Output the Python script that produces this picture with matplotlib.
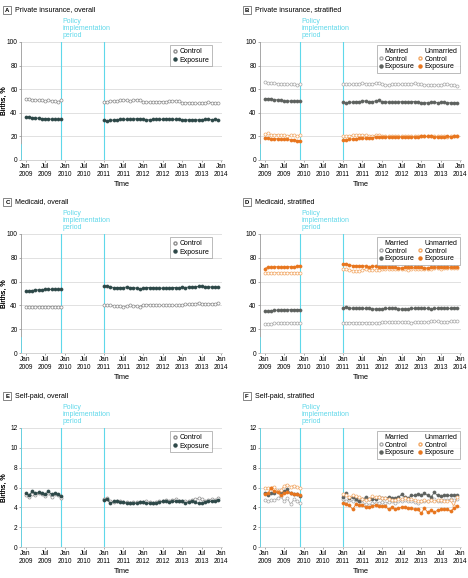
import numpy as np
import matplotlib
matplotlib.use("Agg")
import matplotlib.pyplot as plt
from matplotlib.lines import Line2D
from matplotlib.patches import Rectangle

plt.rcParams['font.family'] = ['Liberation Sans Narrow', 'Liberation Sans', 'DejaVu Sans']

# months since Jan 2009
months_pre = list(range(0, 12))
months_post = list(range(24, 60))
tick_pos = list(range(0, 61, 6))
tick_labels = ["Jan\n2009", "Jul\n2009", "Jan\n2010", "Jul\n2010", "Jan\n2011", "Jul\n2011",
               "Jan\n2012", "Jul\n2012", "Jan\n2013", "Jul\n2013", "Jan\n2014"]

# A: private insurance, overall
a_ctrl_pre = [52, 51.5, 51, 51, 50.5, 50.5, 50, 50.5, 50, 50, 49.5, 50.5]
a_ctrl_post = [49.5, 49.5, 50, 50, 50, 50.5, 51, 50.5, 50, 50.5, 51, 51,
               49.5, 49, 49, 49.5, 49.5, 49.5, 49.5, 49.5, 50, 50, 50, 50,
               48.5, 48.5, 48.5, 48.5, 48, 48, 48.5, 48.5, 49, 48.5, 48.5, 48]
a_exp_pre = [36.5, 36.5, 36, 35.5, 35.5, 35, 35, 35, 34.5, 34.5, 34.5, 34.5]
a_exp_post = [33.5, 33, 33.5, 34, 34, 34.5, 34.5, 34.5, 34.5, 34.5, 35, 35,
              34.5, 34, 34, 34.5, 34.5, 34.5, 34.5, 35, 34.5, 34.5, 34.5, 34.5,
              34, 34, 34, 34, 34, 34, 34, 34.5, 34.5, 34, 34.5, 34]

# B: private insurance, stratified
b_mc_pre = [66, 65.5, 65, 65, 64.5, 64.5, 64, 64, 64, 64, 63.5, 64]
b_mc_post = [64, 64, 64, 64, 64.5, 64.5, 65, 64.5, 64, 64.5, 65, 65.5,
             64, 63.5, 63.5, 64, 64, 64, 64, 64, 64.5, 64, 65, 64.5,
             64, 63.5, 63.5, 63.5, 63.5, 63.5, 63.5, 64, 64, 63.5, 63.5, 63]
b_me_pre = [52, 52, 52, 51, 51, 50.5, 50, 50, 50, 50, 50, 50]
b_me_post = [49, 48.5, 49, 49, 49.5, 49.5, 50, 50, 49.5, 49.5, 50, 50.5,
             49.5, 49.5, 49, 49, 49, 49, 49.5, 49.5, 49, 49.5, 49.5, 49.5,
             48.5, 48.5, 48.5, 49, 49, 48.5, 49, 49, 48.5, 48.5, 48.5, 48.5]
b_uc_pre = [22, 22.5, 21.5, 21.5, 21.5, 21, 21.5, 20.5, 21, 21, 20.5, 21]
b_uc_post = [20, 20, 20.5, 21, 21, 21.5, 21.5, 21, 20.5, 20.5, 21, 21,
             20.5, 20, 20, 20, 20, 20, 20, 20, 20, 20, 20, 20,
             20, 20, 20, 20, 20, 20, 20, 20, 19.5, 20, 20, 20]
b_ue_pre = [19, 18.5, 18, 18, 18, 17.5, 17.5, 17.5, 17, 17, 16.5, 16.5]
b_ue_post = [17, 17, 17.5, 18, 18, 18.5, 18.5, 18.5, 19, 19, 19.5, 19.5,
             19.5, 19.5, 19.5, 19.5, 19.5, 19.5, 19.5, 19.5, 19.5, 19.5, 19.5, 19.5,
             20, 20, 20, 20, 19.5, 19.5, 19.5, 19.5, 20.5, 19.5, 20, 20]

# C: medicaid, overall
c_ctrl_pre = [38.5, 38.5, 38.5, 38.5, 39, 39, 39, 39, 39, 39, 39, 38.5]
c_ctrl_post = [40, 40, 40, 39.5, 39.5, 39.5, 39, 39.5, 40, 39.5, 39.5, 39,
               40.5, 40.5, 40.5, 40.5, 40, 40, 40, 40, 40, 40, 40, 40,
               40.5, 41, 41, 41, 41.5, 42, 41.5, 41.5, 41, 41.5, 41.5, 42]
c_exp_pre = [52, 52, 52.5, 53, 53, 53, 53.5, 53.5, 53.5, 53.5, 53.5, 53.5]
c_exp_post = [56, 56.5, 55.5, 55, 55, 55, 55, 55.5, 55, 55, 54.5, 54,
              54.5, 55, 55, 55, 54.5, 54.5, 54.5, 54.5, 54.5, 55, 55, 54.5,
              55.5, 55, 55.5, 55.5, 55.5, 56, 56, 55.5, 55.5, 55.5, 55.5, 55.5]

# D: medicaid, stratified
d_mc_pre = [24.5, 24.5, 24.5, 25, 25, 25.5, 25.5, 25, 25.5, 25, 25.5, 25]
d_mc_post = [25.5, 25.5, 25.5, 25.5, 25.5, 25.5, 25.5, 25.5, 25.5, 25.5, 25, 25,
             26, 26, 26, 26, 26, 26, 26, 26, 26, 25.5, 26, 26,
             26, 26, 26, 26.5, 26.5, 26.5, 26, 26, 26, 26.5, 26.5, 26.5]
d_me_pre = [35.5, 35, 35.5, 36, 36, 36, 36.5, 36, 36.5, 36.5, 36.5, 36.5]
d_me_post = [38, 38.5, 38, 37.5, 37.5, 37.5, 37.5, 37.5, 37.5, 37, 37, 37,
             37, 37.5, 37.5, 37.5, 37.5, 37, 37, 37, 37, 37.5, 37.5, 37.5,
             37.5, 37.5, 37.5, 37, 37.5, 37.5, 38, 37.5, 37.5, 37.5, 38, 38]
d_uc_pre = [67.5, 67, 67.5, 67.5, 67.5, 67, 67.5, 67.5, 67.5, 67.5, 67.5, 67.5]
d_uc_post = [70.5, 70.5, 70, 69, 69, 69, 69.5, 70.5, 70, 70, 69.5, 70,
             70.5, 70.5, 71, 71, 70.5, 71, 71, 70.5, 70, 71, 71, 70.5,
             71, 71, 71, 71, 71.5, 71.5, 71, 71.5, 71.5, 71.5, 71.5, 71.5]
d_ue_pre = [71, 72, 72, 72.5, 72.5, 72, 72.5, 72.5, 72.5, 72.5, 73, 73.5]
d_ue_post = [75, 75, 74, 73.5, 73.5, 73, 73.5, 73, 72.5, 73, 73, 72.5,
             72, 72.5, 72.5, 72, 72, 71.5, 71.5, 72, 72, 72, 72, 72,
             72, 71.5, 71.5, 72, 72, 72.5, 72.5, 72, 72.5, 72, 72, 72.5]

# E: self-paid, overall
e_ctrl_pre = [5.2, 5.0, 5.3, 5.2, 5.4, 5.3, 5.1, 5.4, 5.0, 5.3, 5.2, 4.9]
e_ctrl_post = [4.8, 4.9, 4.6, 4.5, 4.6, 4.6, 4.5, 4.5, 4.4, 4.5, 4.5, 4.5,
               4.5, 4.6, 4.5, 4.4, 4.5, 4.6, 4.6, 4.7, 4.6, 4.7, 4.8, 4.6,
               4.6, 4.6, 4.6, 4.7, 4.8, 4.9, 4.8, 4.6, 4.7, 4.8, 4.7, 4.9]
e_exp_pre = [5.4, 5.2, 5.6, 5.4, 5.5, 5.4, 5.3, 5.6, 5.3, 5.4, 5.3, 5.1]
e_exp_post = [4.7, 4.8, 4.4, 4.6, 4.6, 4.5, 4.5, 4.4, 4.4, 4.4, 4.4, 4.5,
              4.5, 4.4, 4.4, 4.4, 4.4, 4.5, 4.6, 4.6, 4.5, 4.6, 4.6, 4.6,
              4.6, 4.4, 4.5, 4.6, 4.5, 4.4, 4.4, 4.5, 4.6, 4.6, 4.6, 4.7]

# F: self-paid, stratified
f_mc_pre = [4.7, 4.6, 4.7, 4.7, 4.9, 5.1, 4.6, 4.9, 4.3, 4.8, 4.6, 4.4]
f_mc_post = [4.8, 4.6, 4.7, 4.6, 4.7, 4.6, 4.4, 4.3, 4.2, 4.4, 4.4, 4.4,
             4.5, 4.4, 4.5, 4.6, 4.4, 4.6, 4.6, 4.7, 4.6, 4.6, 4.5, 4.4,
             4.6, 4.6, 4.6, 4.7, 4.8, 4.6, 4.6, 4.7, 4.7, 4.8, 4.7, 4.8]
f_me_pre = [5.4, 5.2, 5.4, 5.4, 5.6, 5.5, 5.6, 5.8, 5.4, 5.3, 5.3, 5.1]
f_me_post = [5.0, 5.4, 4.9, 5.0, 4.8, 4.6, 4.8, 5.0, 4.8, 4.8, 4.8, 5.0,
             4.9, 4.9, 5.0, 4.9, 4.9, 5.0, 5.3, 5.0, 4.9, 5.2, 5.2, 5.3,
             5.2, 5.4, 5.2, 5.0, 5.5, 5.2, 5.1, 5.2, 5.2, 5.2, 5.2, 5.2]
f_uc_pre = [6.0, 5.9, 6.0, 6.1, 5.6, 5.7, 6.2, 6.3, 6.1, 6.2, 6.1, 5.9]
f_uc_post = [5.3, 5.2, 5.0, 5.2, 5.1, 5.0, 4.8, 4.7, 4.8, 5.1, 5.0, 5.0,
             4.9, 4.9, 4.8, 4.7, 4.7, 4.8, 4.8, 4.9, 4.8, 4.8, 4.7, 4.6,
             4.6, 4.7, 4.6, 4.7, 4.6, 4.7, 4.7, 4.6, 4.6, 4.7, 4.1, 5.0]
f_ue_pre = [5.3, 5.4, 5.9, 5.6, 5.5, 5.2, 5.4, 5.5, 5.4, 5.3, 5.3, 5.2]
f_ue_post = [4.4, 4.3, 4.2, 3.8, 4.3, 4.2, 4.2, 4.0, 4.0, 4.1, 4.2, 4.1,
             4.1, 4.1, 3.8, 4.0, 3.8, 3.9, 4.0, 4.0, 3.9, 3.9, 3.8, 3.8,
             3.4, 3.9, 3.5, 3.7, 3.5, 3.7, 3.8, 3.8, 3.8, 3.6, 3.9, 4.1]

cyan = '#5fd8ea'
dark = '#2d4848'
grey_open = '#8c8c8c'
m_dark = '#5e625f'
m_open = '#a8a8a8'
u_dark = '#e8761e'
u_open = '#f2a866'

W, H = 468, 578
fig = plt.figure(figsize=(W / 100, H / 100), dpi=100)

def px_axes(left, top, right, bottom):
    return fig.add_axes([left / W, 1 - bottom / H, (right - left) / W, (bottom - top) / H])

def series(ax, pre, post, color, filled):
    fc = color if filled else 'white'
    for xs, ys in [(months_pre, pre), (months_post, post)]:
        ax.plot(xs, ys, color=color, lw=0.6, marker='o', ms=2.2, mfc=fc, mec=color, mew=0.5,
                zorder=3)

def setup(ax, letter, title, ymax, ystep, left_full):
    ax.set_xlim(-1.4, 60.2)
    ax.set_ylim(0, ymax)
    ax.set_yticks(np.arange(0, ymax + 0.1, ystep))
    ax.set_xticks(tick_pos)
    ax.set_xticklabels(tick_labels)
    ax.tick_params(labelsize=4.7, length=1.5, width=0.5, color='#888888', pad=1)
    ax.grid(axis='y', color='#dcdcdc', lw=0.6)
    ax.set_axisbelow(True)
    for s in ['top', 'right']:
        ax.spines[s].set_visible(False)
    ax.spines['left'].set_color('#999999')
    ax.spines['bottom'].set_color('#cccccc')
    ax.spines['left'].set_linewidth(0.6)
    ax.spines['bottom'].set_linewidth(0.6)
    ax.set_ylabel('Births, %', fontsize=5, va='center')
    bb = ax.get_position()
    ax.yaxis.set_label_coords(-(bb.x0 * W - 4) / (bb.width * W), 0.5)
    ax.set_xlabel('Time', fontsize=5.3, labelpad=2)
    ax.axvline(11, color=cyan, lw=0.8, zorder=1)
    ax.axvline(24, color=cyan, lw=0.8, zorder=1)
    ax.axvline(-1.4, ymax=1.0 if left_full else 0.13, color=cyan, lw=1.2, zorder=4)
    ax.text(11.3, 1.025, 'Policy\nimplementation\nperiod', transform=ax.get_xaxis_transform(),
            color=cyan, fontsize=5, ha='left', va='bottom', linespacing=1.05)
    # panel letter box + title
    fx = bb.x0 - 16 / W
    fy = bb.y1 + 32 / H
    fig.text(fx + 2.5 / W, fy, letter, fontsize=4.3, ha='center', va='center', fontweight='bold')
    fig.patches.append(Rectangle((fx - 1.5 / W, fy - 4 / H), 8 / W, 8 / H, transform=fig.transFigure,
                                 fill=False, ec='#555555', lw=0.5))
    fig.text(fx + 10.5 / W, fy, title, fontsize=5.1, ha='left', va='center')

def overall_legend(ax):
    h = [Line2D([], [], color=grey_open, marker='o', ms=2.2, mfc='white', lw=0),
         Line2D([], [], color=dark, marker='o', ms=2.2, mfc=dark, lw=0)]
    leg = ax.legend(h, ['Control', 'Exposure'], loc='upper right', fontsize=5, frameon=True,
                    fancybox=False, edgecolor='#888888', handlelength=0.6, handletextpad=0.4,
                    borderpad=0.4, labelspacing=0.2, bbox_to_anchor=(0.97, 1.0))
    leg.get_frame().set_linewidth(0.5)

def strat_legend(ax):
    blank = Line2D([], [], lw=0, marker='')
    h = [blank,
         Line2D([], [], color=m_open, marker='o', ms=2.2, mfc='white', lw=0),
         Line2D([], [], color=m_dark, marker='o', ms=2.2, mfc=m_dark, lw=0),
         blank,
         Line2D([], [], color=u_open, marker='o', ms=2.2, mfc='white', lw=0),
         Line2D([], [], color=u_dark, marker='o', ms=2.2, mfc=u_dark, lw=0)]
    labels = ['Married', 'Control', 'Exposure', 'Unmarried', 'Control', 'Exposure']
    leg = ax.legend(h, labels, ncol=2, loc='upper right', fontsize=5, frameon=True,
                    fancybox=False, edgecolor='#888888', handlelength=0.5, handletextpad=0.3,
                    borderpad=0.35, labelspacing=0.1, columnspacing=0.6,
                    bbox_to_anchor=(1.01, 1.0))
    leg.get_frame().set_linewidth(0.5)

# row positions (pixels)
rows = [(42, 160), (234, 353), (428, 547)]
lefts = [(21, 222), (260, 461)]

axA = px_axes(lefts[0][0], rows[0][0], lefts[0][1], rows[0][1])
setup(axA, 'A', 'Private insurance, overall', 100, 20, False)
series(axA, a_ctrl_pre, a_ctrl_post, grey_open, False)
series(axA, a_exp_pre, a_exp_post, dark, True)
overall_legend(axA)

axB = px_axes(lefts[1][0], rows[0][0], lefts[1][1], rows[0][1])
setup(axB, 'B', 'Private insurance, stratified', 100, 20, False)
series(axB, b_mc_pre, b_mc_post, m_open, False)
series(axB, b_me_pre, b_me_post, m_dark, True)
series(axB, b_uc_pre, b_uc_post, u_open, False)
series(axB, b_ue_pre, b_ue_post, u_dark, True)
strat_legend(axB)

axC = px_axes(lefts[0][0], rows[1][0], lefts[0][1], rows[1][1])
setup(axC, 'C', 'Medicaid, overall', 100, 20, False)
series(axC, c_ctrl_pre, c_ctrl_post, grey_open, False)
series(axC, c_exp_pre, c_exp_post, dark, True)
overall_legend(axC)

axD = px_axes(lefts[1][0], rows[1][0], lefts[1][1], rows[1][1])
setup(axD, 'D', 'Medicaid, stratified', 100, 20, False)
series(axD, d_mc_pre, d_mc_post, m_open, False)
series(axD, d_me_pre, d_me_post, m_dark, True)
series(axD, d_uc_pre, d_uc_post, u_open, False)
series(axD, d_ue_pre, d_ue_post, u_dark, True)
strat_legend(axD)

axE = px_axes(lefts[0][0], rows[2][0], lefts[0][1], rows[2][1])
setup(axE, 'E', 'Self-paid, overall', 12, 2, True)
series(axE, e_ctrl_pre, e_ctrl_post, grey_open, False)
series(axE, e_exp_pre, e_exp_post, dark, True)
overall_legend(axE)

axF = px_axes(lefts[1][0], rows[2][0], lefts[1][1], rows[2][1])
setup(axF, 'F', 'Self-paid, stratified', 12, 2, True)
series(axF, f_mc_pre, f_mc_post, m_open, False)
series(axF, f_me_pre, f_me_post, m_dark, True)
series(axF, f_uc_pre, f_uc_post, u_open, False)
series(axF, f_ue_pre, f_ue_post, u_dark, True)
strat_legend(axF)

fig.savefig('out.png', dpi=100)
